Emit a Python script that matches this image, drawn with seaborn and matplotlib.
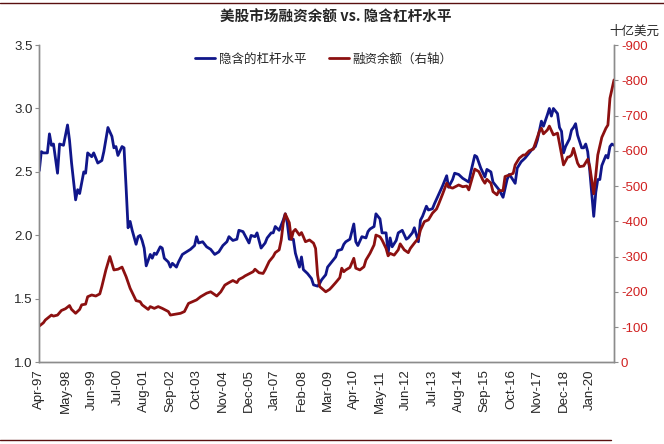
import matplotlib
matplotlib.use("Agg")
import matplotlib.pyplot as plt
import matplotlib.dates as mdates
from matplotlib.lines import Line2D
from matplotlib.ticker import FuncFormatter, MultipleLocator
import seaborn as sns
import pandas as pd

# implied leverage (left axis)
lev_dates = [
    "1997-04", "1997-05", "1997-06", "1997-08", "1997-09", "1997-10", "1997-11", "1998-01",
    "1998-02", "1998-04", "1998-06", "1998-07", "1998-08", "1998-10", "1998-11", "1998-12",
    "1999-02", "1999-03", "1999-04", "1999-06", "1999-07", "1999-09", "1999-11", "1999-12",
    "2000-02", "2000-04", "2000-05", "2000-06", "2000-07", "2000-09", "2000-10", "2000-11",
    "2000-12", "2001-01", "2001-02", "2001-04", "2001-05", "2001-06", "2001-07", "2001-08",
    "2001-09", "2001-11", "2001-12", "2002-01", "2002-02", "2002-04", "2002-05", "2002-06",
    "2002-08", "2002-09", "2002-10", "2002-12", "2003-01", "2003-03", "2003-06", "2003-07",
    "2003-09", "2003-10", "2003-11", "2004-01", "2004-03", "2004-05", "2004-07", "2004-09",
    "2004-11", "2005-01", "2005-02", "2005-04", "2005-06", "2005-07", "2005-09", "2005-10",
    "2005-12", "2006-01", "2006-03", "2006-04", "2006-06", "2006-08", "2006-09", "2006-11",
    "2006-12", "2007-01", "2007-03", "2007-05", "2007-06", "2007-07", "2007-08", "2007-10",
    "2007-11", "2008-01", "2008-02", "2008-03", "2008-05", "2008-07", "2008-08", "2008-10",
    "2008-11", "2008-12", "2009-02", "2009-03", "2009-05", "2009-07", "2009-08", "2009-10",
    "2009-11", "2009-12", "2010-02", "2010-04", "2010-05", "2010-06", "2010-08", "2010-10",
    "2010-11", "2010-12", "2011-02", "2011-03", "2011-05", "2011-06", "2011-08", "2011-09",
    "2011-10", "2011-11", "2012-01", "2012-02", "2012-04", "2012-06", "2012-07", "2012-09",
    "2012-10", "2012-12", "2013-01", "2013-02", "2013-04", "2013-05", "2013-07", "2013-08",
    "2013-10", "2013-12", "2014-02", "2014-03", "2014-05", "2014-06", "2014-08", "2014-10",
    "2014-11", "2015-01", "2015-02", "2015-04", "2015-05", "2015-07", "2015-09", "2015-10",
    "2015-12", "2016-01", "2016-03", "2016-04", "2016-06", "2016-08", "2016-09", "2016-10",
    "2016-12", "2017-01", "2017-03", "2017-05", "2017-06", "2017-08", "2017-10", "2017-11",
    "2018-01", "2018-02", "2018-04", "2018-05", "2018-06", "2018-07", "2018-09", "2018-10",
    "2018-11", "2018-12", "2019-01", "2019-03", "2019-04", "2019-05", "2019-06", "2019-07",
    "2019-09", "2019-10", "2019-11", "2019-12", "2020-01", "2020-03", "2020-04", "2020-05",
    "2020-06", "2020-07", "2020-09", "2020-10", "2020-11", "2020-12", "2021-01",
]
lev_values = [
    2.51, 2.66, 2.65, 2.65, 2.80, 2.71, 2.72, 2.49,
    2.72, 2.71, 2.87, 2.75, 2.57, 2.28, 2.36, 2.33,
    2.50, 2.49, 2.65, 2.62, 2.65, 2.57, 2.59, 2.66,
    2.85, 2.78, 2.69, 2.70, 2.63, 2.70, 2.69, 2.38,
    2.06, 2.11, 2.04, 1.93, 1.99, 2.00, 1.96, 1.90,
    1.76, 1.85, 1.82, 1.86, 1.85, 1.91, 1.90, 1.82,
    1.79, 1.75, 1.78, 1.75, 1.79, 1.85, 1.88, 1.89,
    1.92, 1.99, 1.94, 1.95, 1.91, 1.89, 1.85, 1.87,
    1.92, 1.95, 1.99, 1.96, 1.97, 2.04, 2.03, 2.00,
    1.94, 2.00, 1.99, 2.02, 1.90, 1.94, 1.98, 2.02,
    2.02, 2.07, 2.04, 2.12, 2.17, 2.10, 1.97, 1.97,
    1.86, 1.75, 1.83, 1.73, 1.70, 1.66, 1.61, 1.60,
    1.62, 1.65, 1.69, 1.75, 1.79, 1.83, 1.88, 1.89,
    1.93, 1.95, 1.97, 2.09, 1.95, 1.92, 1.99, 1.98,
    2.03, 2.05, 2.07, 2.17, 2.13, 2.02, 2.02, 1.86,
    1.98, 1.91, 1.96, 2.02, 2.04, 1.97, 1.98, 2.02,
    2.06, 1.95, 2.12, 2.15, 2.23, 2.20, 2.21, 2.25,
    2.32, 2.39, 2.47, 2.38, 2.44, 2.49, 2.48, 2.45,
    2.44, 2.42, 2.50, 2.63, 2.62, 2.53, 2.46, 2.52,
    2.50, 2.42, 2.38, 2.36, 2.30, 2.44, 2.48, 2.46,
    2.41, 2.53, 2.58, 2.61, 2.63, 2.67, 2.70, 2.75,
    2.90, 2.86, 2.95, 3.00, 2.94, 3.00, 2.96, 2.85,
    2.82, 2.65, 2.70, 2.76, 2.83, 2.85, 2.88, 2.79,
    2.69, 2.69, 2.72, 2.66, 2.51, 2.15, 2.34, 2.44,
    2.44, 2.55, 2.63, 2.61, 2.70, 2.72, 2.71,
]

# margin debt, billion USD (right axis)
margin_dates = [
    "1997-04", "1997-06", "1997-07", "1997-10", "1997-11", "1998-01", "1998-03", "1998-05",
    "1998-07", "1998-08", "1998-10", "1998-12", "1999-01", "1999-03", "1999-04", "1999-06",
    "1999-08", "1999-10", "1999-11", "2000-01", "2000-03", "2000-05", "2000-07", "2000-09",
    "2000-11", "2001-01", "2001-02", "2001-04", "2001-06", "2001-07", "2001-10", "2001-11",
    "2002-01", "2002-03", "2002-05", "2002-08", "2002-09", "2002-12", "2003-02", "2003-04",
    "2003-06", "2003-08", "2003-10", "2003-12", "2004-03", "2004-05", "2004-08", "2004-10",
    "2004-12", "2005-02", "2005-04", "2005-06", "2005-07", "2005-09", "2005-10", "2005-12",
    "2006-02", "2006-03", "2006-05", "2006-07", "2006-08", "2006-10", "2006-12", "2007-01",
    "2007-03", "2007-04", "2007-05", "2007-06", "2007-08", "2007-09", "2007-10", "2007-11",
    "2008-01", "2008-02", "2008-03", "2008-04", "2008-06", "2008-08", "2008-09", "2008-10",
    "2008-11", "2009-01", "2009-02", "2009-04", "2009-05", "2009-07", "2009-09", "2009-10",
    "2009-11", "2009-12", "2010-02", "2010-04", "2010-05", "2010-07", "2010-09", "2010-10",
    "2010-12", "2011-02", "2011-03", "2011-05", "2011-06", "2011-08", "2011-09", "2011-10",
    "2011-12", "2012-02", "2012-03", "2012-05", "2012-07", "2012-08", "2012-10", "2012-12",
    "2013-01", "2013-03", "2013-05", "2013-07", "2013-09", "2013-10", "2013-12", "2014-02",
    "2014-03", "2014-05", "2014-07", "2014-08", "2014-10", "2014-12", "2015-01", "2015-03",
    "2015-04", "2015-06", "2015-08", "2015-09", "2015-10", "2015-12", "2016-01", "2016-03",
    "2016-04", "2016-06", "2016-07", "2016-09", "2016-11", "2016-12", "2017-02", "2017-04",
    "2017-05", "2017-07", "2017-09", "2017-10", "2017-12", "2018-01", "2018-02", "2018-04",
    "2018-05", "2018-07", "2018-09", "2018-10", "2018-12", "2019-02", "2019-03", "2019-04",
    "2019-05", "2019-07", "2019-08", "2019-10", "2019-12", "2020-01", "2020-03", "2020-04",
    "2020-05", "2020-07", "2020-09", "2020-10", "2020-11", "2021-01",
]
margin_values = [
    103, 112, 120, 134, 131, 134, 147, 152,
    161, 150, 139, 150, 163, 165, 186, 191,
    188, 194, 215, 262, 300, 262, 264, 270,
    243, 210, 198, 175, 172, 163, 150, 158,
    153, 158, 153, 144, 134, 137, 139, 144,
    167, 172, 177, 186, 196, 200, 188, 200,
    219, 226, 232, 226, 235, 241, 245, 251,
    257, 264, 254, 252, 262, 286, 300, 311,
    319, 347, 394, 421, 396, 349, 371, 377,
    361, 368, 356, 342, 347, 338, 323, 248,
    215, 205, 200, 207, 213, 226, 240, 267,
    257, 262, 269, 295, 267, 262, 271, 290,
    309, 333, 361, 356, 347, 323, 302, 309,
    304, 319, 336, 319, 311, 323, 338, 352,
    375, 399, 404, 423, 435, 448, 477, 508,
    498, 494, 500, 503, 498, 500, 489, 527,
    548, 541, 517, 508, 519, 508, 484, 475,
    487, 487, 527, 531, 536, 560, 579, 588,
    588, 600, 605, 621, 655, 664, 648, 659,
    670, 645, 650, 621, 560, 582, 583, 588,
    607, 565, 555, 557, 576, 555, 478, 531,
    588, 638, 664, 673, 749, 801,
]

title = "美股市场融资余额 vs. 隐含杠杆水平"
lev_label = "隐含的杠杆水平"
margin_label = "融资余额（右轴）"
unit_label = "十亿美元"

blue = "#10168a"
red = "#8c1010"
tick_red = "#d02020"
spine_gray = "#8c8c8c"

lev = pd.DataFrame({"date": pd.to_datetime(lev_dates), "value": lev_values})
margin = pd.DataFrame({"date": pd.to_datetime(margin_dates), "value": margin_values})

sns.set_style("white")
plt.rcParams["font.family"] = ["Liberation Sans", "Noto Sans CJK SC"]
cjk = ["Noto Sans CJK SC", "DejaVu Sans"]

fig = plt.figure(figsize=(6.64, 4.44), dpi=100)
ax = fig.add_axes([0.0592, 0.184, 0.8655, 0.7146])
ax2 = ax.twinx()

sns.lineplot(data=lev, x="date", y="value", ax=ax, color=blue, lw=2.0)
sns.lineplot(data=margin, x="date", y="value", ax=ax2, color=red, lw=2.0)

ax.set_xlim(pd.Timestamp("1997-04-01"), pd.Timestamp("2021-01-01"))
ax.set_ylim(1.0, 3.5)
ax.yaxis.set_major_locator(MultipleLocator(0.5))
ax.yaxis.set_major_formatter(FuncFormatter(lambda v, p: f"{v:.1f}"))
ax2.set_ylim(0, 900)
ax2.yaxis.set_major_locator(MultipleLocator(100))
ax2.yaxis.set_major_formatter(FuncFormatter(lambda v, p: "0" if v == 0 else f"-{int(v)}"))

xticks = pd.date_range("1997-04-01", "2020-01-01", freq="13MS")
ax.set_xticks(xticks)
ax.xaxis.set_major_formatter(mdates.DateFormatter("%b-%y"))
for lbl in ax.get_xticklabels():
    lbl.set_rotation(90)

for a in (ax, ax2):
    a.set_xlabel("")
    a.set_ylabel("")
    a.spines["top"].set_visible(False)
    for s in ("left", "right", "bottom"):
        a.spines[s].set_color(spine_gray)
        a.spines[s].set_linewidth(1.0)
    a.tick_params(length=3, width=0.8, color=spine_gray, labelsize=9.5, pad=2)

ax2.tick_params(axis="y", labelcolor=tick_red)
ax2.get_yticklabels()[0].set_color("black")

handles = [Line2D([], [], color=blue, lw=2.0), Line2D([], [], color=red, lw=2.0)]
ax2.legend(handles, [lev_label, margin_label], loc="center", bbox_to_anchor=(0.495, 0.955),
           ncol=2, frameon=False, prop={"family": cjk, "size": 9}, handlelength=1.6,
           handletextpad=0.3, columnspacing=1.8)

fig.text(0.505, 0.962, title, ha="center", va="center", fontsize=10.5, fontweight="bold", family=cjk)
fig.text(0.955, 0.930, unit_label, ha="center", va="center", fontsize=9, family=cjk)

# page frame lines
fig.add_artist(Line2D([0, 1], [0.994, 0.994], color="#5a1010", lw=1.0))
fig.add_artist(Line2D([0, 0.92], [0.008, 0.008], color="#5a1010", lw=1.0))

fig.savefig("out.png", dpi=100)
